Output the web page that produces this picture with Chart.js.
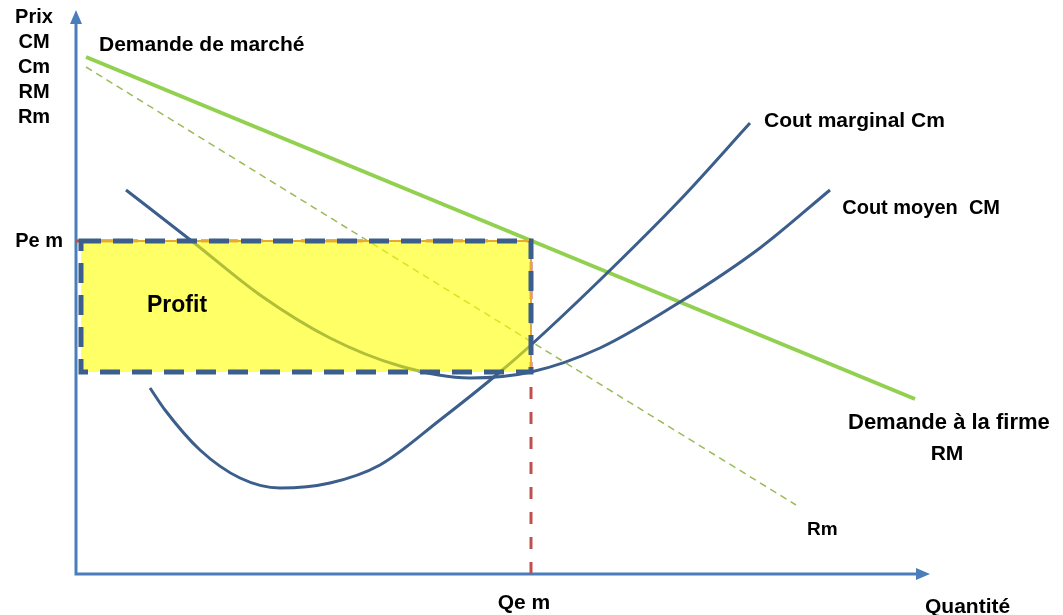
<!DOCTYPE html>
<html>
<head>
  <meta charset="UTF-8">
  <title>Monopole : profit</title>
  <script src="https://cdn.jsdelivr.net/npm/chart.js"></script>
  <style>
    body { margin: 0; background: #ffffff; }
    #wrap { width: 1063px; height: 615px; }
  </style>
</head>
<body>
  <div id="wrap"><canvas id="monopole" width="1063" height="615"></canvas></div>

  <script>
    // Demande de marché (RM) et recette marginale (Rm)
    const demandeX = [10, 839];
    const demandeY = [517, 175];
    const rmX = [10, 720];
    const rmY = [507, 69];

    // Cout marginal Cm
    const cmX = [74, 89, 124, 164, 204, 254, 304, 364, 424, 455, 524, 604, 674];
    const cmY = [186, 164, 124, 96, 86, 91, 109, 154, 202, 229, 294, 374, 451];

    // Cout moyen CM
    const cmoyX = [50, 117, 184, 254, 324, 394, 455, 524, 604, 684, 754];
    const cmoyY = [384, 332, 279, 236, 208, 196, 202, 226, 272, 326, 384];

    // Équilibre : quantité, prix, cout moyen à Qe
    const qe = 455;
    const pe = 333;
    const cmAtQe = 202;
    const axisMaxX = 852;
    const axisMaxY = 562;

    const pts = (xs, ys) => xs.map((x, i) => ({ x, y: ys[i] }));

    const FONT = '"Liberation Sans", Arial, sans-serif';
    const NAVY = "#3b5e8c";

    const diagram = {
      id: "diagram",
      beforeDatasetsDraw(chart) {
        const { ctx, scales: { x, y } } = chart;
        const X = v => x.getPixelForValue(v);
        const Y = v => y.getPixelForValue(v);
        ctx.save();
        // axes
        ctx.strokeStyle = "#4a7ebb";
        ctx.fillStyle = "#4a7ebb";
        ctx.lineWidth = 3;
        ctx.beginPath();
        ctx.moveTo(X(0), Y(0));
        ctx.lineTo(X(0), Y(axisMaxY) + 8);
        ctx.moveTo(X(0) - 1.5, Y(0));
        ctx.lineTo(X(axisMaxX) - 8, Y(0));
        ctx.stroke();
        ctx.beginPath();
        ctx.moveTo(X(0), Y(axisMaxY) - 2);
        ctx.lineTo(X(0) - 6, Y(axisMaxY) + 12);
        ctx.lineTo(X(0) + 6, Y(axisMaxY) + 12);
        ctx.closePath();
        ctx.fill();
        ctx.beginPath();
        ctx.moveTo(X(axisMaxX) + 2, Y(0));
        ctx.lineTo(X(axisMaxX) - 12, Y(0) - 6);
        ctx.lineTo(X(axisMaxX) - 12, Y(0) + 6);
        ctx.closePath();
        ctx.fill();

        // pointillés rouges vers Qe et Pe
        ctx.strokeStyle = "#c0504d";
        ctx.lineWidth = 3;
        ctx.setLineDash([12, 13]);
        ctx.beginPath();
        ctx.moveTo(X(qe), Y(0));
        ctx.lineTo(X(qe), Y(pe));
        ctx.stroke();
        ctx.beginPath();
        ctx.moveTo(X(0), Y(pe));
        ctx.lineTo(X(qe), Y(pe));
        ctx.stroke();
        ctx.restore();
      },
      afterDatasetsDraw(chart) {
        const { ctx, scales: { x, y } } = chart;
        const X = v => x.getPixelForValue(v);
        const Y = v => y.getPixelForValue(v);
        const left = X(5), right = X(qe), top = Y(pe), bottom = Y(cmAtQe);
        ctx.save();
        // zone de profit
        ctx.fillStyle = "rgba(255, 255, 0, 0.6)";
        ctx.fillRect(left, top, right - left, bottom - top);
        ctx.strokeStyle = "#e8a838";
        ctx.lineWidth = 2;
        ctx.beginPath();
        ctx.moveTo(left, top);
        ctx.lineTo(right, top);
        ctx.lineTo(right, bottom);
        ctx.stroke();
        ctx.strokeStyle = NAVY;
        ctx.lineWidth = 5;
        ctx.setLineDash([20, 12]);
        ctx.strokeRect(left, top, right - left, bottom - top);
        ctx.setLineDash([]);

        // textes
        ctx.fillStyle = "#000000";
        ctx.textBaseline = "middle";
        ctx.font = "bold 20px " + FONT;
        ctx.textAlign = "center";
        ["Prix", "CM", "Cm", "RM", "Rm"].forEach((t, i) => {
          ctx.fillText(t, 34, 17 + i * 25);
        });
        ctx.textAlign = "right";
        ctx.fillText("Pe m", 63, Y(pe));
        ctx.fillText("Cout moyen  CM", 1000, 208);
        ctx.textAlign = "center";
        ctx.font = "bold 21px " + FONT;
        ctx.fillText("Qe m", X(qe) - 7, 603);
        ctx.fillText("RM", 947, 454);
        ctx.textAlign = "left";
        ctx.fillText("Demande de marché", 99, 45);
        ctx.fillText("Cout marginal Cm", 764, 121);
        ctx.fillText("Quantité", 925, 607);
        ctx.font = "bold 22px " + FONT;
        ctx.fillText("Demande à la firme", 848, 423);
        ctx.font = "bold 19px " + FONT;
        ctx.fillText("Rm", 807, 530);
        ctx.font = "bold 23px " + FONT;
        ctx.fillText("Profit", 147, 306);
        ctx.restore();
      }
    };

    new Chart(document.getElementById("monopole"), {
      type: "scatter",
      data: {
        datasets: [
          {
            label: "Rm",
            data: pts(rmX, rmY),
            showLine: true,
            borderColor: "#9bbb59",
            borderWidth: 1.5,
            borderDash: [7, 5],
            pointRadius: 0
          },
          {
            label: "Cout moyen CM",
            data: pts(cmoyX, cmoyY),
            showLine: true,
            borderColor: NAVY,
            borderWidth: 3,
            cubicInterpolationMode: "monotone",
            pointRadius: 0
          },
          {
            label: "Cout marginal Cm",
            data: pts(cmX, cmY),
            showLine: true,
            borderColor: NAVY,
            borderWidth: 3,
            cubicInterpolationMode: "monotone",
            pointRadius: 0
          },
          {
            label: "Demande de marché",
            data: pts(demandeX, demandeY),
            showLine: true,
            borderColor: "#92d050",
            borderWidth: 4,
            pointRadius: 0
          }
        ]
      },
      options: {
        responsive: false,
        animation: false,
        layout: { padding: 0 },
        plugins: { legend: { display: false }, tooltip: { enabled: false } },
        scales: {
          x: { type: "linear", min: -76, max: 987, display: false },
          y: { type: "linear", min: -41, max: 574, display: false }
        }
      },
      plugins: [diagram]
    });
  </script>
</body>
</html>
